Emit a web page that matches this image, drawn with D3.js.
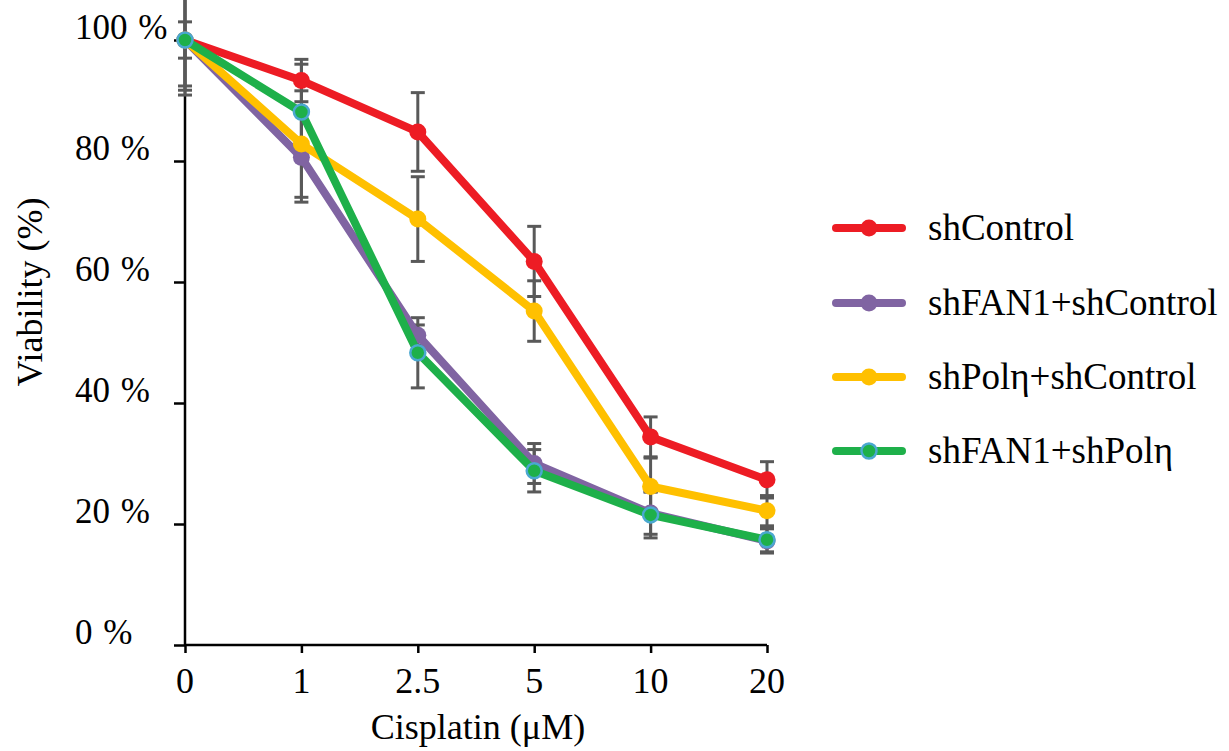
<!DOCTYPE html>
<html>
<head>
<meta charset="utf-8">
<script src="https://cdn.jsdelivr.net/npm/d3@7"></script>
<style>
  html, body { margin: 0; padding: 0; background: #fff; }
  text { font-family: "Liberation Serif", "Times New Roman", serif; fill: #000; }
</style>
</head>
<body>
<svg id="chart" width="1229" height="751"></svg>
<script>
const categories = ["0", "1", "2.5", "5", "10", "20"];
const yTicks = [0, 20, 40, 60, 80, 100];
const seriesNames = ["shControl", "shFAN1+shControl", "shPolη+shControl", "shFAN1+shPolη"];
const shControl      = [100, 93.3, 84.8, 63.4, 34.4, 27.3];
const shControlErr   = [9.1, 3.5, 6.5, 5.8, 3.3, 3.0];
const shFAN1         = [100, 80.6, 51.2, 30.0, 21.8, 17.2];
const shFAN1Err      = [8.3, 7.4, 1.7, 3.3, 3.5, 2.0];
const shPol          = [100, 82.8, 70.4, 55.2, 26.2, 22.2];
const shPolErr       = [7.6, 8.8, 7.0, 5.0, 4.7, 2.5];
const shFAN1Pol      = [100, 88.1, 48.3, 28.8, 21.5, 17.4];
const shFAN1PolErr   = [3.0, 7.9, 5.8, 3.5, 3.8, 2.0];
const colors = ["#ed1c24", "#8064a2", "#ffc000", "#1eb04a"];

const seriesValues = [shControl, shFAN1, shPol, shFAN1Pol];
const seriesErrs = [shControlErr, shFAN1Err, shPolErr, shFAN1PolErr];

const svg = d3.select("#chart");
const x = d3.scalePoint().domain(categories).range([185, 767]);
const y = d3.scaleLinear().domain([0, 100]).range([645, 40]);

// Axes
const yAxis = d3.axisLeft(y).tickValues(yTicks).tickSize(11).tickFormat("");
const gy = svg.append("g").attr("transform", "translate(185,0)").call(yAxis);
gy.select(".domain").attr("stroke", "#000").attr("stroke-width", 2.5).attr("d", `M0,${y(100)}V${y(0)}`);
gy.selectAll(".tick line").attr("stroke", "#000").attr("stroke-width", 2.5);

const xAxis = d3.axisBottom(x).tickSize(8).tickFormat("");
const gx = svg.append("g").attr("transform", `translate(0,${y(0)})`).call(xAxis);
gx.select(".domain").attr("stroke", "#000").attr("stroke-width", 2.5).attr("d", `M${x("0")},0H${x("20")}`);
gx.selectAll(".tick line").attr("stroke", "#000").attr("stroke-width", 2.5);

// Y tick labels (left aligned, baseline near tick)
svg.append("g").selectAll("text").data(yTicks).join("text")
  .attr("x", 75).attr("y", d => y(d) - 1)
  .attr("font-size", 35).attr("text-anchor", "start")
  .style("word-spacing", "2px")
  .text(d => d + " %");

// X tick labels
svg.append("g").selectAll("text").data(categories).join("text")
  .attr("x", d => x(d)).attr("y", 693)
  .attr("font-size", 36).attr("text-anchor", "middle")
  .text(d => d);

// Axis titles
svg.append("text").attr("x", 478).attr("y", 739).attr("font-size", 36)
  .attr("text-anchor", "middle").text("Cisplatin (μM)");
svg.append("text").attr("transform", "translate(42,292) rotate(-90)")
  .attr("font-size", 36).attr("text-anchor", "middle").text("Viability (%)");

// Error bars
const errG = svg.append("g");
seriesValues.forEach((vals, si) => {
  vals.forEach((v, i) => {
    const cx = x(categories[i]);
    const e = seriesErrs[si][i];
    const y1 = y(v + e), y2 = y(v - e);
    const g = errG.append("g").attr("stroke", "#595959").attr("stroke-width", 3);
    g.append("line").attr("x1", cx).attr("x2", cx).attr("y1", y1).attr("y2", y2);
    g.append("line").attr("x1", cx - 7).attr("x2", cx + 7).attr("y1", y1).attr("y2", y1);
    g.append("line").attr("x1", cx - 7).attr("x2", cx + 7).attr("y1", y2).attr("y2", y2);
  });
});

// Lines and markers
const line = d3.line().x((d, i) => x(categories[i])).y(d => y(d));
seriesValues.forEach((vals, si) => {
  const g = svg.append("g");
  g.append("path").datum(vals).attr("d", line).attr("fill", "none")
    .attr("stroke", colors[si]).attr("stroke-width", 8).attr("stroke-linejoin", "round").attr("stroke-linecap", "round");
  g.selectAll("circle").data(vals).join("circle")
    .attr("cx", (d, i) => x(categories[i])).attr("cy", d => y(d)).attr("r", si === 3 ? 7.5 : 8.5)
    .attr("fill", colors[si])
    .attr("stroke", si === 3 ? "#4aa8d0" : "none").attr("stroke-width", si === 3 ? 2.5 : 0);
});

// Legend
const legRows = [228, 303, 377, 451];
const leg = svg.append("g");
seriesNames.forEach((name, si) => {
  const ly = legRows[si];
  leg.append("line").attr("x1", 836).attr("x2", 902).attr("y1", ly).attr("y2", ly)
    .attr("stroke", colors[si]).attr("stroke-width", 8).attr("stroke-linecap", "round");
  leg.append("circle").attr("cx", 869).attr("cy", ly).attr("r", si === 3 ? 7.5 : 8.5)
    .attr("fill", colors[si])
    .attr("stroke", si === 3 ? "#4aa8d0" : "none").attr("stroke-width", si === 3 ? 2.5 : 0);
  leg.append("text").attr("x", 928).attr("y", ly + 12).attr("font-size", 37).text(name);
});
</script>
</body>
</html>
